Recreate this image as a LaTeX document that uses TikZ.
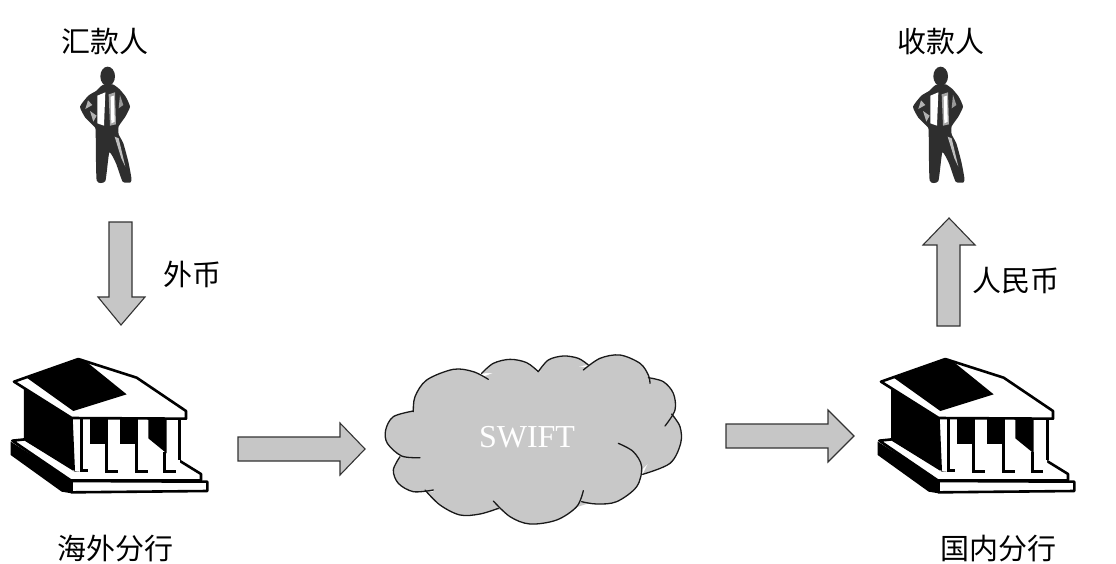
\documentclass[tikz,border=0pt]{standalone}
\usepackage{fontspec}
\setmainfont{Liberation Serif}
\newfontfamily\cjk{Noto Sans CJK SC}
\definecolor{cloudgray}{HTML}{C8C8C8}
\definecolor{arrowgray}{HTML}{C6C6C6}
\tikzset{
  lbl/.style={font=\cjk\fontsize{29}{31}\selectfont,inner sep=0pt,text=black},
  blockarrow/.style={fill=arrowgray,draw=black!80,line width=1.1pt,line join=miter},
  cloudline/.style={draw=black!90,line width=1.3pt,line cap=round,fill=none},
  bankline/.style={draw=black,line width=2.6pt,line join=round},
  bankink/.style={fill=black,draw=none}
}
\newcommand{\bank}[1]{%
\begin{scope}[shift={(#1,345)},scale=1/3]
  \fill[black] (32,290) -- (32,330) -- (185,440) -- (215,445) -- (215,405) -- cycle;
  \filldraw[fill=white,bankline] (215,408) -- (622,410) -- (622,438) -- (215,442) -- cycle;
  \filldraw[fill=white,bankline] (37,287) -- (75,283) -- (225,376) -- (535,345) -- (603,387) -- (603,406) -- (212,406) -- cycle;
  \fill[white] (215,218) -- (540,222) -- (540,378) -- (220,378) -- cycle;
  \fill[bankink] (72,125) -- (218,215) -- (225,378) -- (72,285) -- cycle;
  \fill[bankink] (270,222) -- (325,222) -- (325,296) -- (270,296) -- cycle;
  \fill[bankink] (360,222) -- (415,222) -- (415,296) -- (360,296) -- cycle;
  \fill[bankink] (445,222) -- (500,222) -- (500,325) -- (445,280) -- cycle;
  \draw[black,line width=3pt] (245,222) -- (245,376) -- (263,376);
  \draw[black,line width=3pt] (320,296) -- (320,379) -- (355,379);
  \draw[black,line width=3pt] (410,296) -- (410,379) -- (445,379);
  \draw[black,line width=3pt] (495,322) -- (495,379) -- (527,379);
  \draw[black,line width=3pt] (540,222) -- (540,345);
  \filldraw[fill=white,bankline] (42,110) -- (235,42) -- (410,98) -- (558,198) -- (558,221) -- (215,219) -- cycle;
  \fill[bankink] (80,98) -- (235,42) -- (265,55) -- (380,148) -- (220,198) -- cycle;
\end{scope}}
\newcommand{\person}[1]{%
\begin{scope}[shift={(#1,55)},scale=1/3]
  \fill[black!82] (143,64) ellipse [x radius=22,y radius=29];
  \fill[black!82] plot[smooth cycle,tension=.3] coordinates {(128,90) (158,88) (178,102) (197,125) (210,155) (196,185) (176,214) (176,238) (190,265) (205,320) (214,368) (212,382) (188,380) (168,325) (148,292) (136,378) (110,376) (107,232) (104,216) (76,188) (60,155) (85,122) (108,108)};
  \fill[white] (112,122) -- (136,112) -- (132,212) -- (112,205) -- cycle;
  \fill[black!35] (146,118) -- (165,112) -- (168,208) -- (150,212) -- cycle;
  \fill[white] (152,125) -- (162,122) -- (164,200) -- (154,205) -- cycle;
  \fill[black!30] (84,136) -- (97,150) -- (76,162) -- cycle;
  \fill[black!30] (90,168) -- (110,182) -- (100,200) -- cycle;
  \fill[black!25] (164,245) -- (176,250) -- (196,335) -- (184,310) -- cycle;
  \fill[black!40] (180,120) -- (190,150) -- (176,160) -- cycle;
\end{scope}}
\begin{document}
\begin{tikzpicture}[x=1pt,y=-1pt]
\useasboundingbox (0,0) rectangle (1116,563);
\fill[white] (0,0) rectangle (1116,563);
\node[lbl] (payer) at (105,41) {汇款人};
\node[lbl] (payee) at (941,41) {收款人};
\node[lbl] (fx) at (192,274) {外币};
\node[lbl] (rmb) at (1016,281) {人民币};
\node[lbl] (overseas) at (115,548) {海外分行};
\node[lbl] (domestic) at (998,548) {国内分行};
\person{60}
\person{893}
\bank{0}
\bank{867}
\draw[blockarrow] (109,222) -- (132,222) -- (132,297) -- (145,297) -- (121,325) -- (98,297) -- (109,297) -- cycle;
\draw[blockarrow] (937,326) -- (960,326) -- (960,245) -- (975,245) -- (949,218) -- (923,245) -- (937,245) -- cycle;
\draw[blockarrow] (238,437) -- (340,437) -- (340,423) -- (365,449) -- (340,475) -- (340,461) -- (238,461) -- cycle;
\draw[blockarrow] (726,424) -- (828,424) -- (828,410) -- (854,436) -- (828,462) -- (828,448) -- (726,448) -- cycle;
\begin{scope}[shift={(370,340)},scale=1/3]
  \def\ba{(130,215) (135,170) (170,120) (250,88) (310,95) (355,118)}
  \def\bb{(335,100) (370,70) (420,58) (470,68) (505,95)}
  \def\bc{(505,95) (535,60) (580,48) (625,55) (655,75)}
  \def\bd{(640,90) (690,55) (750,45) (810,70) (835,105) (840,130)}
  \def\be{(835,113) (880,125) (910,160) (915,210) (885,258)}
  \def\bf{(905,222) (930,260) (932,310) (900,370) (818,403)}
  \def\bg{(745,310) (790,335) (815,380) (800,440) (740,485) (680,492) (635,485)}
  \def\bh{(640,452) (620,500) (560,540) (480,552) (420,530) (370,483)}
  \def\bi{(385,505) (330,522) (270,525) (210,495) (165,450)}
  \def\bj{(190,450) (130,455) (85,430) (70,390) (90,350)}
  \def\bk{(150,353) (95,348) (52,310) (47,270) (70,230) (130,213)}
  \foreach \b in {\ba,\bb,\bc,\bd,\be,\bf,\bg,\bh,\bi,\bj,\bk}{
    \fill[cloudgray] plot[smooth,tension=.55] coordinates {\b} -- cycle;
  }
  \fill[cloudgray] (132,215) -- (200,130) -- (345,108) -- (420,80) -- (505,97) -- (570,70) -- (648,82) -- (740,70) -- (836,122) -- (895,200) -- (905,300) -- (810,395) -- (720,470) -- (560,520) -- (420,510) -- (270,505) -- (150,430) -- (100,370) -- (70,280) -- cycle;
  \foreach \b in {\ba,\bb,\bc,\bd,\be,\bf,\bg,\bh,\bi,\bj,\bk}{
    \draw[cloudline] plot[smooth,tension=.55] coordinates {\b};
  }
\end{scope}
\node[font=\fontsize{32}{34}\selectfont,text=white,inner sep=0pt] (swift) at (527,437) {SWIFT};
\end{tikzpicture}
\end{document}
